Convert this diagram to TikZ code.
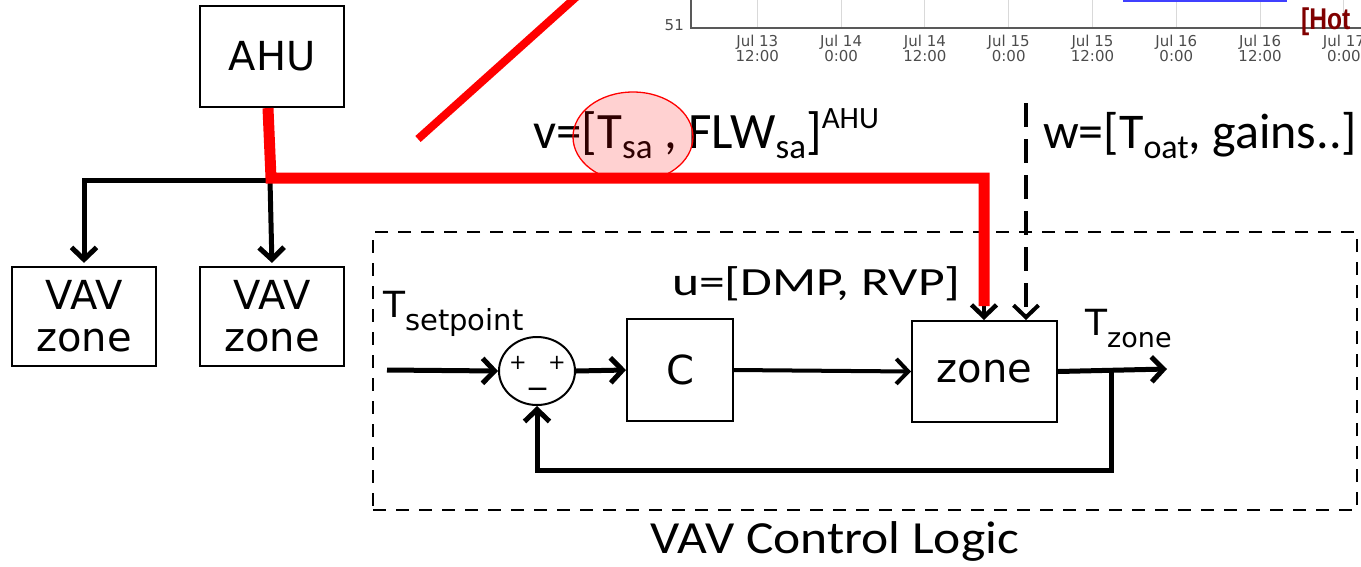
\documentclass[tikz,border=0pt]{standalone}
\usepackage{fontspec}
\setmainfont{DejaVu Sans}
\newfontfamily\calfont{Carlito}
\newfontfamily\arialfont{Liberation Sans}
\usetikzlibrary{arrows.meta,shapes.geometric}
\newcommand\subtxt[3]{\raisebox{#1}{\fontsize{#2}{#2}\selectfont #3}}
\begin{document}
\begin{tikzpicture}[x=1pt,y=-1pt,
  box/.style={draw, line width=2.2pt, inner sep=0pt, align=center,
    font=\fontsize{40}{42}\selectfont},
  barb/.style={-{Straight Barb[length=12pt,width=25pt]}},
  blk/.style={line width=5pt, line cap=butt},
  redline/.style={draw=red, line width=11pt, line join=miter},
  ticklab/.style={font=\fontsize{15}{15}\selectfont, text=black!70, inner sep=0pt},
  callab/.style={inner sep=0pt, anchor=base west}]
\useasboundingbox (0,0) rectangle (1361,566);
\clip (0,0) rectangle (1361,566);

% ---- chart fragment ----
\foreach \i in {0,...,7} \draw[black!15, line width=1pt] (757.3+83.8*\i,-2) -- (757.3+83.8*\i,28);
\draw[blue!75!white, line width=2pt] (1123,0.5) -- (1287,0.5);
\draw[black!65, line width=2pt] (691,-5) -- (691,28) -- (1365,28);
\node[ticklab, anchor=mid east] (y51) at (684,28) {51};
\node[ticklab, anchor=mid east] (y32) at (684,-4) {32};
\foreach \i/\a/\b in {0/13/12:00,1/14/0:00,2/14/12:00,3/15/0:00,4/15/12:00,5/16/0:00,6/16/12:00,7/17/0:00}{
  \node[ticklab, anchor=base] (ta\i) at (757.3+83.8*\i,46) {Jul \a};
  \node[ticklab, anchor=base] (tb\i) at (757.3+83.8*\i,61) {\b};}
\node[inner sep=0pt, anchor=base west, text={rgb,255:red,128;green,0;blue,0}]
  (hot) at (1301,29) {\scalebox{0.82}[1]{\arialfont\bfseries\fontsize{30}{30}\selectfont [Hot}};

% ---- red diagonal ----
\coordinate (d1) at (418,139);
\coordinate (d2) at (584,-10);
\draw[red, line width=8pt] (d1) -- (d2);

% ---- boxes ----
\node[box, minimum width=144pt, minimum height=101pt] (ahu) at (272,56.5) {AHU};
\node[box, minimum width=144pt, minimum height=99pt] (vav1) at (84,316.5) {VAV\\zone};
\node[box, minimum width=144pt, minimum height=99pt] (vav2) at (272,316.5) {VAV\\zone};
\node[box, line width=2pt, minimum width=106pt, minimum height=102pt] (cbox) at (680,370) {C};
\node[box, line width=2pt, minimum width=145pt, minimum height=101pt] (zone) at (984.5,371.5) {zone};
\node[draw, line width=2pt, ellipse, inner sep=0pt, minimum width=76pt, minimum height=68pt] (sum) at (537,371) {};
\node[inner sep=0pt, font=\fontsize{21}{21}\selectfont] (p1) at (518,363) {+};
\node[inner sep=0pt, font=\fontsize{21}{21}\selectfont] (p2) at (557,363) {+};
\node[inner sep=0pt, anchor=base, font=\fontsize{34}{34}\selectfont] (mn) at (538,382) {\_};

% ---- dashed frame ----
\node[draw, line width=2pt, dash pattern=on 13pt off 10pt, minimum width=984pt, minimum height=278pt, inner sep=0pt] (frame) at (865,371) {};
\node[inner sep=0pt, anchor=base] (framelab) at (835,553)
  {\scalebox{1.12}[1]{\calfont\fontsize{46}{46}\selectfont VAV Control Logic}};

% ---- AHU distribution ----
\coordinate (split) at (270,180);
\draw[blk, barb, shorten >=3pt] (split) -| (vav1.north);
\draw[blk, barb, shorten >=3pt] (split) -- (vav2.north);

% ---- control loop ----
\coordinate (in) at (387,370);
\draw[blk, barb] (in) -- (sum.west);
\draw[blk, barb] (sum.east) -- (cbox.west);
\draw[line width=4pt, barb] (cbox.east) -- (zone.west);
\coordinate (out) at (1167,369);
\draw[blk, barb] (zone.east) -- (out);
\coordinate (fb) at (1111,369);
\draw[blk, barb, line join=miter] (fb) -- (1111,470) -| (sum.south);

% ---- labels in loop ----
\node[callab, font=\fontsize{36}{36}\selectfont] (tset) at (383,317) {T\subtxt{-13pt}{29}{setpoint}};
\node[callab, font=\fontsize{36}{36}\selectfont] (tzone) at (1085,335) {T\subtxt{-12pt}{27}{zone}};
\node[callab] (ulab) at (672,295)
  {\scalebox{1.29}[1]{\calfont\fontsize{40}{40}\selectfont u=[DMP, RVP]}};

% ---- disturbance w ----
\coordinate (wtop) at (1026,103);
\draw[line width=4pt, dash pattern=on 24pt off 12pt, barb] (wtop) -- (wtop |- zone.north);
\node[callab, font=\calfont\fontsize{50}{50}\selectfont] (wlab) at (1043,148)
  {w=[T\subtxt{-10pt}{34}{oat}, gains..]};

% ---- supply air v ----
\node[callab, font=\calfont\fontsize{51}{51}\selectfont] (vlab) at (533,148)
  {v=[T\subtxt{-10pt}{35}{sa} , FLW\subtxt{-10pt}{35}{sa}]\subtxt{20pt}{31}{AHU}};

\coordinate (rc1) at (271,178);
\coordinate (rc2) at (984,178);
\coordinate (rend) at (984,306);
\draw[line width=4.5pt, barb] (rend) -- (zone.north -| rend);
\draw[redline] ([xshift=-4pt]ahu.south) -- (rc1) -- (rc2) -- (rend);

\node[ellipse, draw=red, line width=1.3pt, fill=red, fill opacity=0.18, minimum width=120pt, minimum height=90pt] (hl) at (633,137) {};
\end{tikzpicture}
\end{document}
